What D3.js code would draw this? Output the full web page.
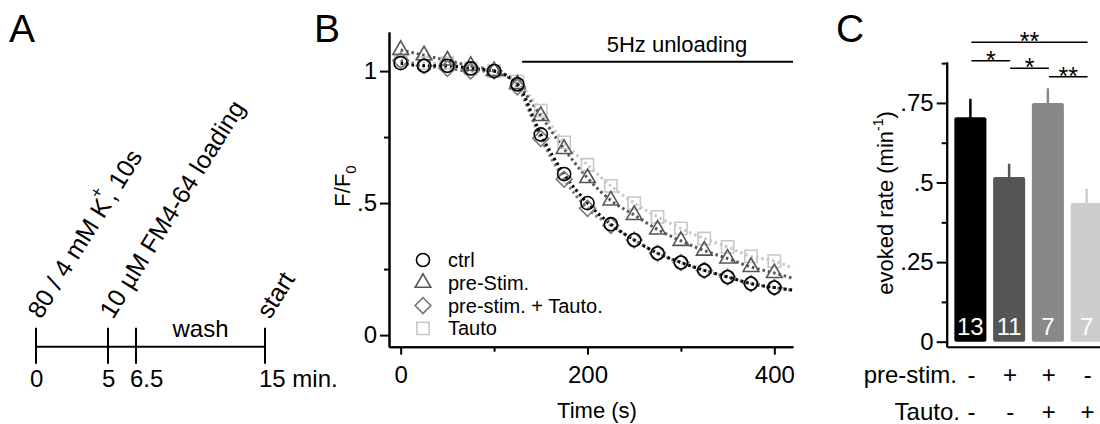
<!DOCTYPE html>
<html>
<head>
<meta charset="utf-8">
<script src="https://cdn.jsdelivr.net/npm/d3@7"></script>
<style>
  body { margin: 0; background: #fff; }
  svg { font-family: "Liberation Sans", Arial, sans-serif; }
  .axis path, .axis line { stroke: #000; stroke-width: 2; }
  .axis text { font-size: 24px; fill: #000; font-family: "Liberation Sans", Arial, sans-serif; }
</style>
</head>
<body>
<script>
// ---- panel A: protocol timeline
var protoTimes = [0, 5, 6.5, 15],
    protoTickLabels = ["0", "5", "6.5", "15 min."],
    protoEvents = ["80 / 4 mM K", "10 \u00b5M FM4-64 loading", "start"],
    protoEventAt = [0, 5, 15];

// ---- panel B: unloading time course (F/F0)
var times = [0, 25, 50, 75, 100, 125, 150, 175, 200, 225, 250, 275, 300, 325, 350, 375, 400],
    ctrl         = [1.03, 1.02, 1.02, 1.01, 1.00, 0.95, 0.76, 0.61, 0.50, 0.42, 0.36, 0.31, 0.275, 0.245, 0.22, 0.195, 0.18],
    preStim      = [1.08, 1.06, 1.04, 1.02, 1.00, 0.95, 0.83, 0.705, 0.595, 0.51, 0.455, 0.40, 0.357, 0.32, 0.29, 0.258, 0.235],
    preStimTauto = [1.04, 1.02, 1.01, 1.00, 1.00, 0.94, 0.745, 0.59, 0.48, 0.415, 0.36, 0.31, 0.275, 0.245, 0.22, 0.195, 0.18],
    tauto        = [1.04, 1.03, 1.03, 1.01, 1.00, 0.96, 0.85, 0.73, 0.645, 0.565, 0.50, 0.448, 0.404, 0.366, 0.334, 0.298, 0.28],
    fitEndTime = 420,
    fitEnd = [0.17, 0.215, 0.17, 0.253],
    legendLabels = ["ctrl", "pre-Stim.", "pre-stim. + Tauto.", "Tauto"],
    yTicksB = [0, 0.5, 1], yTickLabelsB = ["0", ".5", "1"], yMinorB = [0.25, 0.75],
    xTicksB = [0, 200, 400], xMinorB = [100, 300],
    stimStart = 130;

// ---- panel C: evoked rate bars
var conditions = ["ctrl", "pre", "preTauto", "tauto"],
    rates = [0.705, 0.517, 0.75, 0.436],
    rateErr = [0.058, 0.042, 0.046, 0.044],
    nCells = ["13", "11", "7", "7"],
    preStimRow = ["-", "+", "+", "-"],
    tautoRow = ["-", "-", "+", "+"],
    yTicksC = [0, 0.25, 0.5, 0.75], yTickLabelsC = ["0", ".25", ".5", ".75"],
    yMinorC = [0.125, 0.375, 0.625, 0.875],
    sigPairs = [[0, 3, "**"], [0, 1, "*"], [1, 2, "*"], [2, 3, "**"]];

var svg = d3.select("body").append("svg").attr("width", 1100).attr("height", 424);

function panelLetter(t, x) {
  svg.append("text").attr("x", x).attr("y", 42).attr("font-size", 39).text(t);
}
panelLetter("A", 9); panelLetter("B", 314); panelLetter("C", 836);

// ================= A
var xA = d3.scaleLinear().domain(protoTimes).range([36, 108, 136, 265]),
    lineY = 346.7,
    gA = svg.append("g");

gA.append("line").attr("x1", xA(0)).attr("x2", xA(15)).attr("y1", lineY).attr("y2", lineY)
  .attr("stroke", "#000").attr("stroke-width", 2);
gA.selectAll(".pt").data(protoTimes).enter().append("line")
  .attr("x1", xA).attr("x2", xA).attr("y1", lineY - 19).attr("y2", lineY + 17)
  .attr("stroke", "#000").attr("stroke-width", 2);
gA.selectAll(".pl").data(protoTimes).enter().append("text")
  .attr("x", function (d) { return xA(d) - 6; }).attr("y", 387)
  .attr("font-size", 24).text(function (d, i) { return protoTickLabels[i]; });
gA.append("text").attr("x", (xA(6.5) + xA(15)) / 2).attr("y", 337)
  .attr("text-anchor", "middle").attr("font-size", 24).text("wash");

protoEvents.forEach(function (lab, i) {
  var t = gA.append("text").attr("font-size", 25)
    .attr("transform", "translate(" + (xA(protoEventAt[i]) + 5) + ",320) rotate(-58)");
  t.append("tspan").text(lab);
  if (i === 0) {
    t.append("tspan").attr("font-size", 17).attr("dy", -15).attr("dx", -2).text("+");
    t.append("tspan").attr("dy", 15).attr("dx", -4).text(", 10s");
  }
});

// ================= B
var xB = d3.scaleLinear().domain([-12.5, 420]).range([389, 793]),
    yB = d3.scaleLinear().domain([-0.044, 1.148]).range([346.7, 32]),
    gB = svg.append("g");

gB.append("clipPath").attr("id", "clipB").append("rect")
  .attr("x", 389).attr("y", 25).attr("width", 404).attr("height", 322);

gB.append("g").attr("class", "axis").attr("transform", "translate(389,0)")
  .call(d3.axisLeft(yB).tickValues(yTicksB).tickSize(9).tickSizeOuter(0).tickPadding(3)
    .tickFormat(function (d, i) { return yTickLabelsB[i]; }));
gB.append("g").attr("class", "axis").attr("transform", "translate(389,0)")
  .call(d3.axisLeft(yB).tickValues(yMinorB).tickSize(5).tickSizeOuter(0).tickFormat(""));
gB.append("g").attr("class", "axis").attr("transform", "translate(0,346.7)")
  .call(d3.axisBottom(xB).tickValues(xTicksB).tickSize(8).tickSizeOuter(0).tickPadding(11));
gB.append("g").attr("class", "axis").attr("transform", "translate(0,346.7)")
  .call(d3.axisBottom(xB).tickValues(xMinorB).tickSize(5).tickSizeOuter(0).tickFormat(""));

gB.append("text").attr("x", 597).attr("y", 418).attr("text-anchor", "middle")
  .attr("font-size", 22).text("Time (s)");
var fl = gB.append("text").attr("transform", "translate(350,186) rotate(-90)")
  .attr("text-anchor", "middle").attr("font-size", 22);
fl.append("tspan").text("F/F");
fl.append("tspan").attr("font-size", 15).attr("dy", 6).text("0");

// 5Hz unloading bar
gB.append("line").attr("x1", xB(stimStart)).attr("x2", xB(420)).attr("y1", 61.7).attr("y2", 61.7)
  .attr("stroke", "#000").attr("stroke-width", 2);
gB.append("text").attr("x", 677).attr("y", 52).attr("text-anchor", "middle")
  .attr("font-size", 22).text("5Hz unloading");

var series = [
  { vals: ctrl, color: "#000", sym: "circle" },
  { vals: preStim, color: "#555", sym: "triangle" },
  { vals: preStimTauto, color: "#7a7a7a", sym: "diamond" },
  { vals: tauto, color: "#c8c8c8", sym: "square" }
];
var drawOrder = [3, 1, 2, 0];

function symPath(kind) {
  if (kind === "circle") return d3.symbol(d3.symbolCircle, 135)();
  if (kind === "triangle") return d3.symbol(d3.symbolTriangle, 105)();
  if (kind === "diamond") return d3.symbol(d3.symbolSquare, 125)();
  return d3.symbol(d3.symbolSquare, 150)();
}
function symRot(kind) { return kind === "diamond" ? " rotate(45)" : ""; }

var plotB = gB.append("g").attr("clip-path", "url(#clipB)");
var line = d3.line().x(function (d) { return xB(d[0]); }).y(function (d) { return yB(d[1]); })
  .curve(d3.curveMonotoneX);

drawOrder.forEach(function (si) {
  var s = series[si];
  var pts = times.map(function (t, i) { return [t, s.vals[i]]; });
  pts.push([fitEndTime, fitEnd[si]]);
  plotB.append("path").datum(pts).attr("d", line).attr("fill", "none")
    .attr("stroke", s.color).attr("stroke-width", 3).attr("stroke-dasharray", "2.5,3");
});
drawOrder.forEach(function (si) {
  var s = series[si];
  plotB.selectAll(".m" + si).data(s.vals).enter().append("path")
    .attr("d", symPath(s.sym))
    .attr("transform", function (d, i) {
      return "translate(" + xB(times[i]) + "," + yB(d) + ")" + symRot(s.sym);
    })
    .attr("fill", "none").attr("stroke", s.color).attr("stroke-width", 1.6);
});

// legend
var leg = gB.append("g").selectAll("g").data(legendLabels).enter().append("g")
  .attr("transform", function (d, i) { return "translate(423," + (260 + i * 22.8) + ")"; });
leg.append("path").attr("d", function (d, i) { return symPath(series[i].sym); })
  .attr("transform", function (d, i) { return symRot(series[i].sym).trim(); })
  .attr("fill", "none").attr("stroke", function (d, i) { return series[i].color; })
  .attr("stroke-width", 1.6);
leg.append("text").attr("x", 25).attr("y", 7).attr("font-size", 20).text(function (d) { return d; });

// ================= C
var xC = d3.scaleBand().domain(conditions).range([951, 1106]).paddingInner(0.173).paddingOuter(0.0865),
    yC = d3.scaleLinear().domain([-0.0157, 0.8786]).range([346.7, 62]),
    gC = svg.append("g"),
    barColors = ["#000", "#555", "#888", "#cdcdcd"];

gC.append("g").attr("class", "axis").attr("transform", "translate(946.7,0)")
  .call(d3.axisLeft(yC).tickValues(yTicksC).tickSize(10).tickSizeOuter(0).tickPadding(3)
    .tickFormat(function (d, i) { return yTickLabelsC[i]; }));
gC.append("g").attr("class", "axis").attr("transform", "translate(946.7,0)")
  .call(d3.axisLeft(yC).tickValues(yMinorC).tickSize(5).tickSizeOuter(0).tickFormat(""));
gC.append("g").attr("class", "axis").attr("transform", "translate(0,346.7)")
  .call(d3.axisBottom(d3.scaleLinear().range([946.7, 1100])).tickValues([]).tickSizeOuter(0));

gC.selectAll(".err").data(rates).enter().append("line")
  .attr("x1", function (d, i) { return xC(conditions[i]) + xC.bandwidth() / 2; })
  .attr("x2", function (d, i) { return xC(conditions[i]) + xC.bandwidth() / 2; })
  .attr("y1", function (d) { return yC(d) + 2; })
  .attr("y2", function (d, i) { return yC(d + rateErr[i]); })
  .attr("stroke", function (d, i) { return barColors[i]; }).attr("stroke-width", 2.5);

gC.selectAll(".bar").data(rates).enter().append("rect")
  .attr("x", function (d, i) { return xC(conditions[i]); })
  .attr("width", xC.bandwidth())
  .attr("y", function (d) { return yC(d); })
  .attr("height", function (d) { return yC(0) - yC(d); })
  .attr("rx", 2).attr("fill", function (d, i) { return barColors[i]; });

gC.selectAll(".n").data(nCells).enter().append("text")
  .attr("x", function (d, i) { return xC(conditions[i]) + xC.bandwidth() / 2; })
  .attr("y", 335).attr("text-anchor", "middle").attr("font-size", 24).attr("fill", "#fff")
  .text(function (d) { return d; });

var cx = function (i) { return xC(conditions[i]) + xC.bandwidth() / 2; };
var sigY = [42.3, 60.7, 68.3, 76.7];
sigPairs.forEach(function (p, k) {
  gC.append("line").attr("x1", cx(p[0]) + 1).attr("x2", cx(p[1]) + 1)
    .attr("y1", sigY[k]).attr("y2", sigY[k]).attr("stroke", "#000").attr("stroke-width", 1.5);
  gC.append("text").attr("x", (cx(p[0]) + cx(p[1])) / 2 + 1).attr("y", sigY[k] + 8)
    .attr("text-anchor", "middle").attr("font-size", 25).text(p[2]);
});

var gc = svg.append("g").attr("font-size", 24);
gc.append("text").attr("x", 957).attr("y", 383).attr("text-anchor", "end").text("pre-stim.");
gc.append("text").attr("x", 960).attr("y", 420).attr("text-anchor", "end").text("Tauto.");
gc.selectAll(".r1").data(preStimRow).enter().append("text")
  .attr("x", function (d, i) { return cx(i) + 1; }).attr("y", 383).attr("text-anchor", "middle")
  .text(function (d) { return d; });
gc.selectAll(".r2").data(tautoRow).enter().append("text")
  .attr("x", function (d, i) { return cx(i) + 1; }).attr("y", 420).attr("text-anchor", "middle")
  .text(function (d) { return d; });

var yl = svg.append("text").attr("transform", "translate(893,203) rotate(-90)")
  .attr("text-anchor", "middle").attr("font-size", 22);
yl.append("tspan").text("evoked rate (min");
yl.append("tspan").attr("font-size", 14).attr("dy", -10).text("-1");
yl.append("tspan").attr("dy", 10).text(")");
</script>
</body>
</html>
